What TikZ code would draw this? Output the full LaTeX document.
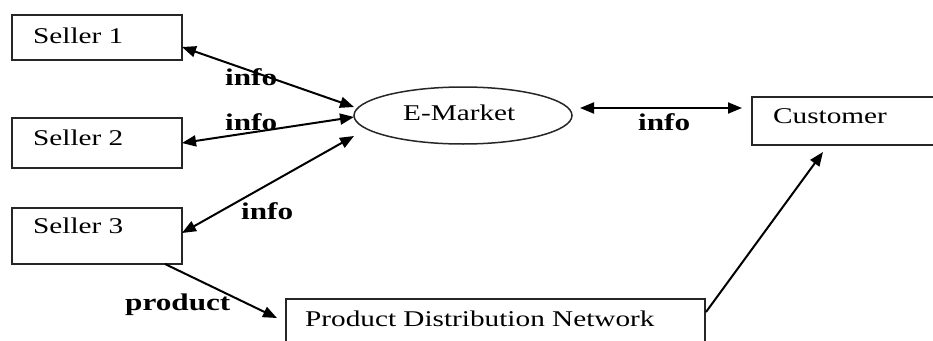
\documentclass[tikz,border=0pt]{standalone}
\usepackage{fontspec}
\setmainfont{Liberation Serif}[FakeStretch=1.3]
\usetikzlibrary{arrows.meta,shapes.geometric}
\begin{document}
\begin{tikzpicture}[x=1pt,y=-1pt,
  box/.style={draw=black!85,line width=1.5pt,inner sep=0pt,anchor=north west},
  txt/.style={inner sep=0pt,anchor=base west,font=\fontsize{22.5}{26}\selectfont},
  lbl/.style={inner sep=0pt,anchor=base west,font=\fontsize{24}{28}\selectfont\bfseries},
  conn/.style={line width=2pt,-{Triangle[length=14pt,width=11pt]}},
  bconn/.style={line width=2pt,{Triangle[length=14pt,width=11pt]}-{Triangle[length=14pt,width=11pt]}}]
\useasboundingbox (0,0) rectangle (933,340);
% boxes
\node[box,minimum width=170pt,minimum height=45pt] (s1) at (11,14) {};
\node[box,minimum width=170pt,minimum height=50pt] (s2) at (11,117) {};
\node[box,minimum width=170pt,minimum height=56pt] (s3) at (11,207) {};
\node[draw=black!85,line width=1.5pt,ellipse,minimum width=218pt,minimum height=57pt,inner sep=0pt] (em) at (463,115.5) {};
\node[box,minimum width=200pt,minimum height=48pt] (cu) at (751,96) {};
\node[box,minimum width=419pt,minimum height=60pt] (pdn) at (285,298) {};
% texts
\node[txt] (t1) at (33,43) {Seller 1};
\node[txt] (t2) at (33,145) {Seller 2};
\node[txt] (t3) at (33,233) {Seller 3};
\node[txt] (tem) at (403,120) {E-Market};
\node[txt] (tcu) at (773,123) {Customer};
\node[txt] (tpdn) at (305,326) {Product Distribution Network};
% connector ends
\coordinate (a1) at (182,47);  \coordinate (b1) at (354,107);
\coordinate (a2) at (182,143); \coordinate (b2) at (354,117);
\coordinate (a3) at (182,233); \coordinate (b3) at (354,136);
\coordinate (a4) at (580,108); \coordinate (b4) at (742,108);
\coordinate (a5) at (165,264); \coordinate (b5) at (277,318);
\coordinate (a6) at (706,312); \coordinate (b6) at (823,152);
\draw[bconn] (a1) -- (b1);
\draw[bconn] (a2) -- (b2);
\draw[bconn] (a3) -- (b3);
\draw[bconn] (a4) -- (b4);
\draw[conn] (a5) -- (b5);
\draw[conn] (a6) -- (b6);
% labels
\node[lbl] (l1) at (225,85) {info};
\node[lbl] (l2) at (225,130) {info};
\node[lbl] (l3) at (241,219) {info};
\node[lbl] (l4) at (638,130) {info};
\node[lbl] (l5) at (125,310) {product};
\end{tikzpicture}
\end{document}
